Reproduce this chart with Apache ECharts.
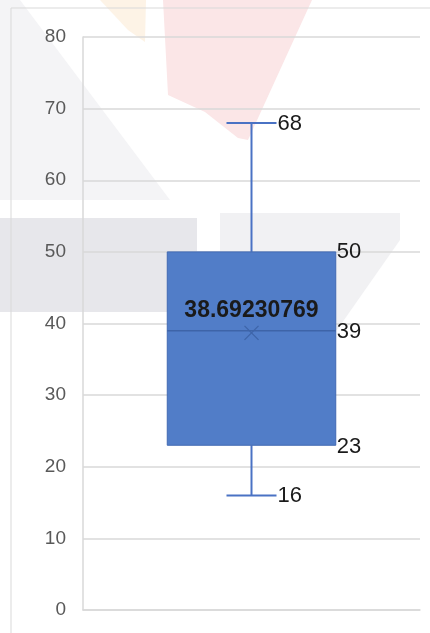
<!DOCTYPE html>
<html>
<head>
<meta charset="utf-8">
<script src="https://cdn.jsdelivr.net/npm/echarts@6/dist/echarts.min.js"></script>
<style>
    html, body { margin: 0; padding: 0; background: #ffffff; }
    #main { width: 430px; height: 633px; }
</style>
</head>
<body>
<div id="main"></div>
<script>
var categories = [""];
var minVals = [16];
var q1Vals = [23];
var medianVals = [39];
var q3Vals = [50];
var maxVals = [68];
var meanVals = [38.69230769];
var meanLabels = ["38.69230769"];
var yTicks = [0, 10, 20, 30, 40, 50, 60, 70, 80];

var dom = document.getElementById("main");
var myChart = echarts.init(dom);

var boxData = [];
for (var i = 0; i < categories.length; i++) {
    boxData.push([i, minVals[i], q1Vals[i], medianVals[i], q3Vals[i], maxVals[i], meanVals[i]]);
}

var labelFont = "22px 'Liberation Sans', Arial, sans-serif";

function renderBox(params, api) {
    var i = api.value(0);
    var pMin = api.coord([i, api.value(1)]);
    var pQ1 = api.coord([i, api.value(2)]);
    var pMed = api.coord([i, api.value(3)]);
    var pQ3 = api.coord([i, api.value(4)]);
    var pMax = api.coord([i, api.value(5)]);
    var pMean = api.coord([i, api.value(6)]);
    var bw = api.size([1, 0])[0] * 0.5;
    var cx = pMed[0];
    var left = cx - bw / 2;
    var right = cx + bw / 2;
    var cap = 25;
    var whisker = { stroke: "#4a72c4", lineWidth: 2 };
    var m = 7;
    return {
        type: "group",
        children: [
            { type: "line", shape: { x1: cx, y1: pQ3[1], x2: cx, y2: pMax[1] }, style: whisker },
            { type: "line", shape: { x1: cx - cap, y1: pMax[1], x2: cx + cap, y2: pMax[1] }, style: whisker },
            { type: "line", shape: { x1: cx, y1: pQ1[1], x2: cx, y2: pMin[1] }, style: whisker },
            { type: "line", shape: { x1: cx - cap, y1: pMin[1], x2: cx + cap, y2: pMin[1] }, style: whisker },
            {
                type: "rect",
                shape: { x: left, y: pQ3[1], width: bw, height: pQ1[1] - pQ3[1] },
                style: { fill: "#517dc8", stroke: "#4169b3", lineWidth: 1 }
            },
            { type: "line", shape: { x1: left, y1: pMed[1], x2: right, y2: pMed[1] }, style: { stroke: "#3e64a8", lineWidth: 1.5 } },
            { type: "line", shape: { x1: pMean[0] - m, y1: pMean[1] - m, x2: pMean[0] + m, y2: pMean[1] + m }, style: { stroke: "#3e64a8", lineWidth: 1.2 } },
            { type: "line", shape: { x1: pMean[0] - m, y1: pMean[1] + m, x2: pMean[0] + m, y2: pMean[1] - m }, style: { stroke: "#3e64a8", lineWidth: 1.2 } },
            { type: "text", style: { text: String(api.value(5)), x: cx + cap + 1, y: pMax[1] + 1, fill: "#1a1a1a", font: labelFont, align: "left", verticalAlign: "middle" } },
            { type: "text", style: { text: String(api.value(4)), x: right + 1, y: pQ3[1], fill: "#1a1a1a", font: labelFont, align: "left", verticalAlign: "middle" } },
            { type: "text", style: { text: String(api.value(3)), x: right + 1, y: pMed[1] + 1, fill: "#1a1a1a", font: labelFont, align: "left", verticalAlign: "middle" } },
            { type: "text", style: { text: String(api.value(2)), x: right + 1, y: pQ1[1] + 2, fill: "#1a1a1a", font: labelFont, align: "left", verticalAlign: "middle" } },
            { type: "text", style: { text: String(api.value(1)), x: cx + cap + 1, y: pMin[1] + 1, fill: "#1a1a1a", font: labelFont, align: "left", verticalAlign: "middle" } },
            { type: "text", style: { text: meanLabels[params.dataIndex], x: cx, y: pMean[1] - 22, fill: "#1a1a1a", font: "bold 23px 'Liberation Sans', Arial, sans-serif", align: "center", verticalAlign: "middle" } }
        ]
    };
}

var option = {
    animation: false,
    backgroundColor: "#ffffff",
    graphic: [
        { type: "polygon", z: -10, silent: true, shape: { points: [[0, 0], [20, 0], [170, 200], [0, 200]] }, style: { fill: "#f4f4f6" } },
        { type: "polygon", z: -10, silent: true, shape: { points: [[163, 0], [312, 0], [248, 140], [238, 138], [205, 112], [168, 95]] }, style: { fill: "#fbe6e7" } },
        { type: "polygon", z: -10, silent: true, shape: { points: [[100, 0], [146, 0], [145, 42], [128, 30]] }, style: { fill: "#fdf3e6" } },
        { type: "polygon", z: -10, silent: true, shape: { points: [[0, 218], [197, 218], [197, 280], [172, 312], [0, 312]] }, style: { fill: "#e7e7eb" } },
        { type: "polygon", z: -10, silent: true, shape: { points: [[220, 213], [400, 213], [400, 240], [337, 330], [220, 330]] }, style: { fill: "#f1f1f3" } },
        { type: "rect", z: -9, silent: true, shape: { x: 11, y: 8, width: 440, height: 650 }, style: { fill: "none", stroke: "#d9d9d9", lineWidth: 1 } }
    ],
    grid: {
        left: 83,
        right: 10,
        top: 37,
        bottom: 23
    },
    xAxis: {
        type: "category",
        data: categories,
        boundaryGap: true,
        axisLine: { show: true, lineStyle: { color: "#d9d9d9", width: 1.5 } },
        axisTick: { show: false },
        axisLabel: { show: false }
    },
    yAxis: {
        type: "value",
        min: yTicks[0],
        max: yTicks[yTicks.length - 1],
        interval: 10,
        axisLine: { show: true, lineStyle: { color: "#d9d9d9", width: 1.5 } },
        axisTick: { show: false },
        axisLabel: {
            color: "#595959",
            fontSize: 19,
            fontFamily: "'Liberation Sans', Arial, sans-serif",
            margin: 17
        },
        splitLine: { lineStyle: { color: "#d9d9d9", width: 1.5 } }
    },
    series: [
        {
            type: "custom",
            renderItem: renderBox,
            encode: { x: 0, y: [1, 2, 3, 4, 5] },
            data: boxData
        }
    ]
};

myChart.setOption(option);
</script>
</body>
</html>
